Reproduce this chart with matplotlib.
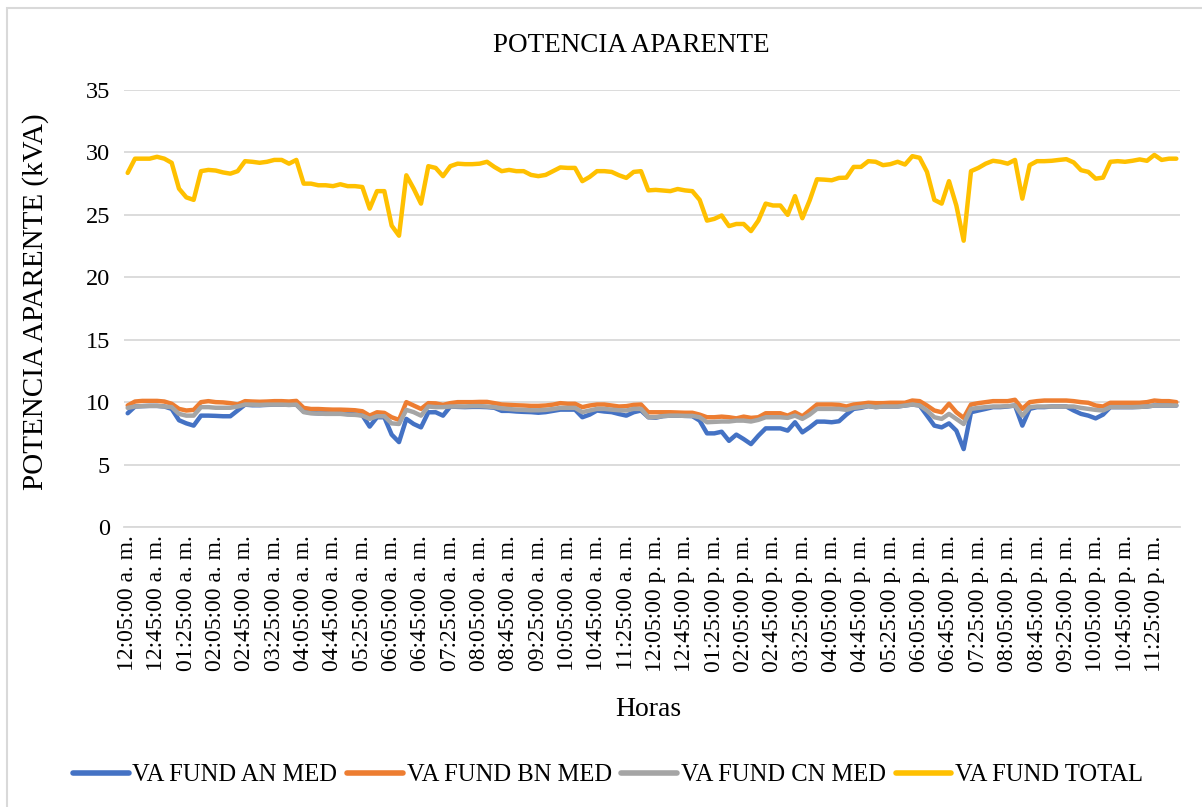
import matplotlib
matplotlib.use("Agg")
import matplotlib.pyplot as plt
from matplotlib.patches import Rectangle
import numpy as np

plt.rcParams['font.family'] = ['Liberation Serif', 'DejaVu Serif']

# Categories: every 10 minutes from 12:05 a.m. to 11:55 p.m.
categories = []
for k in range(144):
    minutes = 5 + 10 * k
    h24, mm = divmod(minutes, 60)
    h12 = h24 % 12
    if h12 == 0:
        h12 = 12
    suffix = "a. m." if h24 < 12 else "p. m."
    categories.append(f"{h12:02d}:{mm:02d}:00 {suffix}")

va_an = [
    9.11, 9.65, 9.68, 9.70, 9.70, 9.65, 9.46, 8.55, 8.30, 8.12,
    8.92, 8.92, 8.90, 8.87, 8.87, 9.33, 9.80, 9.75, 9.75, 9.78,
    9.80, 9.80, 9.78, 9.80, 9.25, 9.15, 9.10, 9.10, 9.08, 9.10,
    9.05, 9.02, 8.95, 8.04, 8.79, 8.79, 7.40, 6.80, 8.66, 8.25,
    7.98, 9.19, 9.19, 8.92, 9.65, 9.62, 9.60, 9.62, 9.62, 9.60,
    9.55, 9.30, 9.30, 9.25, 9.22, 9.20, 9.15, 9.20, 9.30, 9.40,
    9.40, 9.40, 8.79, 9.00, 9.33, 9.25, 9.20, 9.05, 8.92, 9.19,
    9.33, 8.79, 8.75, 8.88, 8.92, 8.92, 8.90, 8.88, 8.52, 7.50,
    7.50, 7.63, 6.90, 7.40, 7.04, 6.64, 7.31, 7.90, 7.90, 7.90,
    7.72, 8.39, 7.58, 7.98, 8.44, 8.44, 8.39, 8.47, 9.00, 9.46,
    9.54, 9.68, 9.60, 9.65, 9.65, 9.65, 9.73, 9.81, 9.73, 8.92,
    8.12, 7.98, 8.30, 7.72, 6.24, 9.19, 9.33, 9.46, 9.60, 9.60,
    9.65, 9.73, 8.12, 9.46, 9.60, 9.60, 9.65, 9.65, 9.65, 9.33,
    9.06, 8.92, 8.70, 9.00, 9.60, 9.60, 9.60, 9.60, 9.62, 9.65,
    9.73, 9.73, 9.73, 9.73,
]

va_bn = [
    9.73, 10.05, 10.10, 10.10, 10.10, 10.05, 9.87, 9.46, 9.33, 9.38,
    10.00, 10.08, 10.00, 9.98, 9.92, 9.81, 10.08, 10.05, 10.03, 10.05,
    10.08, 10.08, 10.05, 10.10, 9.54, 9.45, 9.45, 9.42, 9.40, 9.40,
    9.38, 9.35, 9.27, 8.92, 9.19, 9.14, 8.79, 8.58, 10.00, 9.73,
    9.46, 9.92, 9.90, 9.78, 9.92, 10.00, 10.00, 10.00, 10.02, 10.02,
    9.92, 9.81, 9.78, 9.75, 9.73, 9.70, 9.70, 9.73, 9.80, 9.92,
    9.87, 9.87, 9.60, 9.73, 9.81, 9.81, 9.73, 9.65, 9.68, 9.78,
    9.81, 9.19, 9.19, 9.19, 9.19, 9.17, 9.15, 9.15, 9.00, 8.79,
    8.79, 8.84, 8.79, 8.70, 8.84, 8.74, 8.79, 9.11, 9.11, 9.11,
    8.92, 9.19, 8.87, 9.33, 9.81, 9.81, 9.81, 9.78, 9.65, 9.81,
    9.87, 9.95, 9.92, 9.92, 9.95, 9.95, 9.95, 10.13, 10.08, 9.73,
    9.33, 9.19, 9.87, 9.19, 8.74, 9.81, 9.92, 10.00, 10.08, 10.08,
    10.08, 10.19, 9.46, 10.00, 10.08, 10.13, 10.13, 10.13, 10.13, 10.08,
    10.00, 9.95, 9.73, 9.65, 9.95, 9.95, 9.95, 9.95, 9.95, 10.00,
    10.13, 10.08, 10.08, 10.00,
]

va_cn = [
    9.54, 9.65, 9.68, 9.70, 9.70, 9.65, 9.60, 9.06, 8.92, 8.92,
    9.60, 9.60, 9.55, 9.55, 9.55, 9.65, 9.81, 9.80, 9.78, 9.80,
    9.80, 9.80, 9.78, 9.80, 9.20, 9.10, 9.08, 9.06, 9.06, 9.06,
    9.00, 8.98, 8.92, 8.66, 8.87, 8.87, 8.30, 8.25, 9.38, 9.20,
    8.92, 9.65, 9.60, 9.60, 9.65, 9.65, 9.65, 9.68, 9.68, 9.65,
    9.60, 9.50, 9.45, 9.40, 9.38, 9.35, 9.35, 9.38, 9.45, 9.54,
    9.54, 9.54, 9.20, 9.33, 9.46, 9.46, 9.40, 9.35, 9.33, 9.46,
    9.46, 8.79, 8.79, 8.88, 8.92, 8.92, 8.90, 8.90, 8.79, 8.39,
    8.42, 8.45, 8.45, 8.52, 8.52, 8.45, 8.58, 8.79, 8.79, 8.79,
    8.74, 8.92, 8.66, 9.00, 9.46, 9.46, 9.46, 9.46, 9.38, 9.54,
    9.60, 9.68, 9.60, 9.65, 9.65, 9.65, 9.73, 9.81, 9.73, 9.33,
    8.79, 8.66, 9.06, 8.66, 8.25, 9.46, 9.54, 9.60, 9.65, 9.65,
    9.68, 9.73, 8.92, 9.60, 9.65, 9.65, 9.65, 9.65, 9.65, 9.65,
    9.54, 9.46, 9.38, 9.33, 9.60, 9.60, 9.60, 9.60, 9.62, 9.65,
    9.73, 9.73, 9.73, 9.73,
]

va_total = [
    28.36, 29.50, 29.50, 29.50, 29.65, 29.50, 29.17, 27.10, 26.40, 26.20,
    28.50, 28.60, 28.55, 28.40, 28.30, 28.50, 29.30, 29.25, 29.17, 29.25,
    29.40, 29.40, 29.10, 29.40, 27.50, 27.50, 27.37, 27.37, 27.30, 27.45,
    27.30, 27.30, 27.23, 25.50, 26.90, 26.90, 24.14, 23.33, 28.17, 27.10,
    25.90, 28.90, 28.76, 28.10, 28.90, 29.10, 29.06, 29.06, 29.10, 29.25,
    28.84, 28.50, 28.60, 28.50, 28.50, 28.20, 28.10, 28.20, 28.50, 28.80,
    28.76, 28.76, 27.70, 28.04, 28.50, 28.50, 28.44, 28.17, 27.96, 28.44,
    28.50, 26.96, 27.00, 26.95, 26.90, 27.07, 26.96, 26.90, 26.20, 24.54,
    24.68, 24.95, 24.10, 24.27, 24.27, 23.70, 24.54, 25.90, 25.75, 25.75,
    25.00, 26.50, 24.73, 26.16, 27.85, 27.82, 27.77, 27.96, 27.98, 28.84,
    28.84, 29.30, 29.25, 28.98, 29.06, 29.25, 29.03, 29.70, 29.57, 28.44,
    26.20, 25.90, 27.70, 25.75, 22.93, 28.50, 28.76, 29.10, 29.33, 29.25,
    29.10, 29.40, 26.30, 28.98, 29.30, 29.30, 29.33, 29.40, 29.46, 29.20,
    28.58, 28.44, 27.90, 27.98, 29.25, 29.30, 29.25, 29.33, 29.44, 29.33,
    29.80, 29.40, 29.50, 29.50,
]

series_names = ["VA FUND AN MED", "VA FUND BN MED", "VA FUND CN MED", "VA FUND TOTAL"]
series_colors = ["#4472C4", "#ED7D31", "#A5A5A5", "#FFC000"]
series_values = [va_an, va_bn, va_cn, va_total]

y_ticks = [0, 5, 10, 15, 20, 25, 30, 35]

W, H = 1202, 807
fig = plt.figure(figsize=(W / 100, H / 100), dpi=100)
ax = fig.add_axes([124 / W, 1 - 527 / H, (1180 - 124) / W, (527 - 90) / H])

x = np.arange(len(categories))
for name, col, vals in zip(series_names, series_colors, series_values):
    ax.plot(x, vals, color=col, lw=3.2, label=name, solid_joinstyle='round',
            solid_capstyle='round')

ax.set_xlim(-0.5, len(categories) - 0.5)
ax.set_ylim(0, 35)
ax.set_yticks(y_ticks)
ax.set_yticklabels([str(v) for v in y_ticks], fontsize=17.5)
tick_idx = list(range(0, len(categories), 4))
ax.set_xticks(tick_idx)
ax.set_xticklabels([categories[i] for i in tick_idx], rotation=90, fontsize=17)
ax.tick_params(axis='both', length=0, pad=6)
ax.tick_params(axis='y', pad=10)
ax.grid(axis='y', color='#D9D9D9', lw=1.3)
ax.set_axisbelow(True)
for s in ['top', 'right', 'left']:
    ax.spines[s].set_visible(False)
ax.spines['bottom'].set_color('#D9D9D9')
ax.spines['bottom'].set_linewidth(1.3)

fig.text(631 / W, 1 - 45 / H, "POTENCIA APARENTE", ha='center', va='center', fontsize=19.5)
fig.text(36 / W, 1 - 302 / H, "POTENCIA APARENTE (kVA)", ha='center', va='center',
         rotation=90, fontsize=21)
fig.text(648 / W, 1 - 710 / H, "Horas", ha='center', va='center', fontsize=20)

leg = fig.legend(loc='center', bbox_to_anchor=(608 / W, 1 - 775 / H), ncol=4,
                 frameon=False, fontsize=17.7, handlelength=2.25, handletextpad=0.16,
                 columnspacing=0.4, borderaxespad=0)
for line in leg.get_lines():
    line.set_linewidth(4)

fig.patches.append(Rectangle((7 / W, -0.05), 1.2, 1 - 7.5 / H + 0.05, transform=fig.transFigure,
                             fill=False, edgecolor='#D9D9D9', lw=1.5))

fig.savefig("out.png", dpi=100)
